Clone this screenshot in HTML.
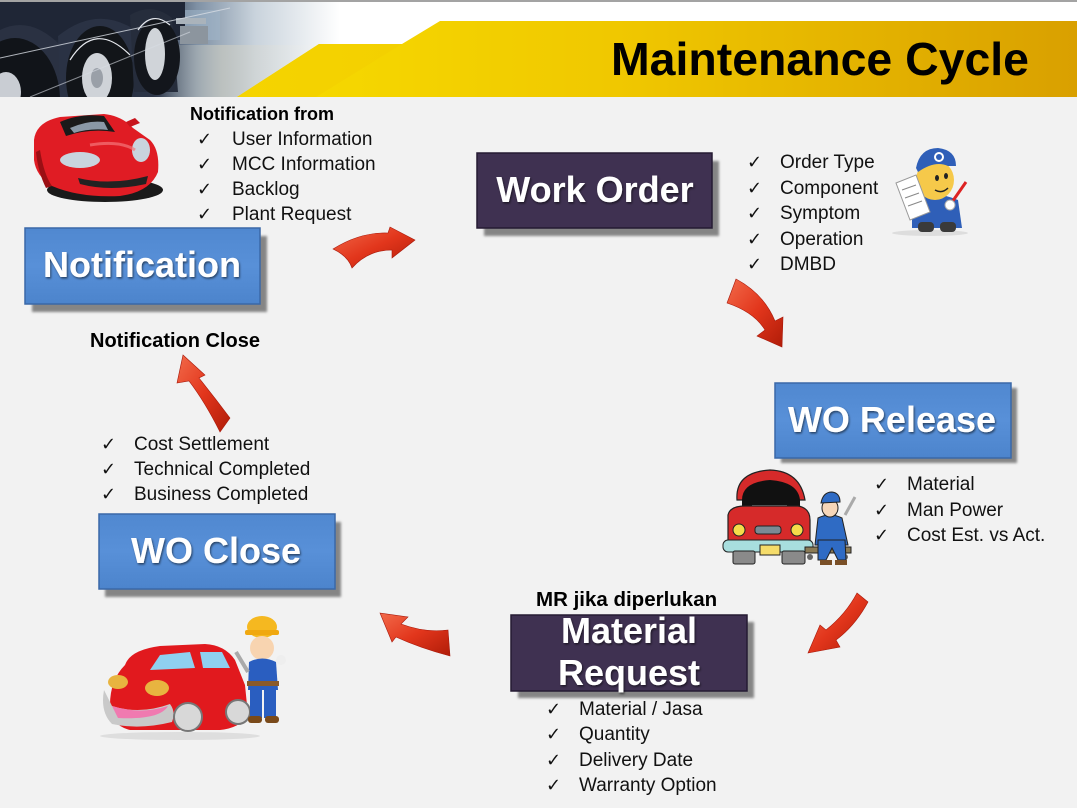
<!DOCTYPE html>
<html>
<head>
<meta charset="utf-8">
<style>
  html,body{margin:0;padding:0;background:#f2f2f2;}
  svg{display:block;}
  text{font-family:"Liberation Sans",sans-serif;}
  .chk{font-family:"DejaVu Sans",sans-serif;font-size:18px;fill:#111;}
  .li{font-size:19px;fill:#111;}
  .bx{font-size:36px;font-weight:bold;fill:#fff;}
  .hd{font-weight:bold;fill:#000;}
</style>
</head>
<body>
<svg width="1077" height="808" viewBox="0 0 1077 808" xmlns="http://www.w3.org/2000/svg">
  <defs>
    <clipPath id="hdrclip"><rect x="0" y="2" width="340" height="95"/></clipPath>
    <linearGradient id="yel" x1="0" y1="0" x2="1" y2="0">
      <stop offset="0" stop-color="#f7dc00"/>
      <stop offset="0.45" stop-color="#f0c800"/>
      <stop offset="1" stop-color="#d9a000"/>
    </linearGradient>
    <linearGradient id="yel2" x1="0" y1="0" x2="1" y2="0">
      <stop offset="0" stop-color="#f5d400"/>
      <stop offset="1" stop-color="#f3d000"/>
    </linearGradient>
    <linearGradient id="truckbg" x1="0" y1="0" x2="1" y2="0">
      <stop offset="0" stop-color="#1c2432"/>
      <stop offset="0.45" stop-color="#2c3547"/>
      <stop offset="0.58" stop-color="#7f91a5"/>
      <stop offset="0.75" stop-color="#c9d3dc"/>
      <stop offset="1" stop-color="#ffffff"/>
    </linearGradient>
    <linearGradient id="floor" x1="0" y1="0" x2="1" y2="0">
      <stop offset="0" stop-color="#b9bcb8" stop-opacity="0"/>
      <stop offset="0.35" stop-color="#c3c6c0"/>
      <stop offset="1" stop-color="#ffffff" stop-opacity="0"/>
    </linearGradient>
    <linearGradient id="red" x1="0" y1="0" x2="1" y2="1">
      <stop offset="0" stop-color="#f26a4a"/>
      <stop offset="0.5" stop-color="#e2361c"/>
      <stop offset="1" stop-color="#b01c08"/>
    </linearGradient>
    <linearGradient id="blue" x1="0" y1="0" x2="0" y2="1">
      <stop offset="0" stop-color="#5088d0"/>
      <stop offset="0.5" stop-color="#5890d8"/>
      <stop offset="1" stop-color="#4c84cc"/>
    </linearGradient>
    <filter id="sh" x="-10%" y="-10%" width="130%" height="130%">
      <feGaussianBlur stdDeviation="1.2"/>
    </filter>
    <filter id="ts" x="-5%" y="-20%" width="110%" height="140%">
      <feDropShadow dx="1" dy="1.5" stdDeviation="1" flood-color="#000" flood-opacity="0.55"/>
    </filter>
  </defs>

  <!-- background -->
  <rect x="0" y="0" width="1077" height="808" fill="#f2f2f2"/>

  <!-- header -->
  <rect x="0" y="0" width="1077" height="97" fill="#ffffff"/>
  <!-- truck photo -->
  <g clip-path="url(#hdrclip)">
    <rect x="0" y="2" width="340" height="95" fill="url(#truckbg)"/>
    <rect x="160" y="45" width="180" height="52" fill="url(#floor)" opacity="0.8"/>
    <rect x="170" y="10" width="50" height="30" fill="#9fb4c8" opacity="0.6"/>
    <!-- fenders / body -->
    <path d="M0,2 L185,2 L185,40 L0,40 Z" fill="#1f2636"/>
    <path d="M0,30 Q30,15 60,45 L62,97 L0,97 Z" fill="#2a3142"/>
    <ellipse cx="15" cy="100" rx="45" ry="62" fill="#111419"/>
    <ellipse cx="6" cy="92" rx="15" ry="20" fill="#c9cdd3"/>
    <path d="M58,36 Q95,6 132,28 L136,97 L60,97 Z" fill="#2a3244"/>
    <ellipse cx="100" cy="78" rx="34" ry="52" fill="#121519"/>
    <path d="M70,60 Q95,20 130,55" stroke="#e6e9ee" stroke-width="1.2" fill="none"/>
    <ellipse cx="97" cy="78" rx="15" ry="25" fill="#cfd3d8"/>
    <ellipse cx="97" cy="78" rx="6" ry="10" fill="#9aa0a8"/>
    <path d="M130,15 Q152,2 172,18 L178,92 L134,92 Z" fill="#262d3c"/>
    <ellipse cx="157" cy="57" rx="23" ry="38" fill="#13161c"/>
    <ellipse cx="155" cy="54" rx="10" ry="26" fill="#d0d4d9"/>
    <path d="M138,30 Q152,10 170,25" stroke="#e6e9ee" stroke-width="1.2" fill="none"/>
    <rect x="176" y="18" width="30" height="6" fill="#aab3bb"/>
    <rect x="180" y="26" width="28" height="18" fill="#8c959e"/>
    <path d="M0,58 L230,8" stroke="#d8dde4" stroke-width="1" opacity="0.8"/>
    <path d="M30,97 L190,32" stroke="#d8dde4" stroke-width="1" opacity="0.6"/>
  </g>
  <rect x="0" y="0" width="1077" height="2" fill="#a3a3a3"/>
  <!-- yellow band -->
  <polygon points="237,97 319,44 402,44 440,21 1077,21 1077,97" fill="url(#yel)"/>
  <polygon points="237,97 319,44 402,44 316,97" fill="url(#yel2)"/>
  <text x="611" y="75" class="hd" font-size="46" textLength="418" lengthAdjust="spacingAndGlyphs">Maintenance Cycle</text>

  <!-- ===== top-left red car ===== -->
  <g>
    <ellipse cx="105" cy="190" rx="58" ry="12" fill="#1a1a1a"/>
    <path d="M34,140 Q36,122 60,117 L104,114 Q122,116 133,128 L150,140 Q160,150 158,172 Q150,192 120,196 Q80,198 52,186 Q36,176 34,160 Z" fill="#e01c24"/>
    <path d="M60,122 Q80,113 104,116 L115,132 Q90,128 66,136 Z" fill="#1a1a1a"/>
    <path d="M70,128 Q88,120 104,122 L108,130 Q90,128 74,133 Z" fill="#8a98a6"/>
    <ellipse cx="80" cy="160" rx="20" ry="8" fill="#c9d4de"/>
    <ellipse cx="141" cy="150" rx="9" ry="12" fill="#c9d4de"/>
    <path d="M78,178 Q110,186 148,176 L146,184 Q110,192 80,184 Z" fill="#222"/>
    <path d="M40,150 Q44,175 52,186 L46,188 Q38,172 36,152 Z" fill="#9b0f14"/>
    <path d="M126,122 L135,118 L140,123 L130,127 Z" fill="#c8141c"/>
    <path d="M90,145 Q120,140 135,150" stroke="#f4767a" stroke-width="3" fill="none" opacity="0.7"/>
  </g>

  <!-- ===== top-right mechanic ===== -->
  <g>
    <ellipse cx="930" cy="233" rx="38" ry="3" fill="#ddd"/>
    <path d="M912,198 Q935,190 958,200 L962,228 L912,228 Z" fill="#2f5fb8"/>
    <rect x="918" y="222" width="16" height="10" rx="4" fill="#3a3a3a"/>
    <rect x="940" y="222" width="16" height="10" rx="4" fill="#3a3a3a"/>
    <ellipse cx="935" cy="180" rx="19" ry="20" fill="#f6c94a"/>
    <path d="M916,168 Q920,148 938,148 Q956,150 956,166 L948,166 Q935,160 918,172 Z" fill="#2f5fb8"/>
    <circle cx="939" cy="157" r="5" fill="#ffffff"/>
    <circle cx="939" cy="157" r="3" fill="#2f5fb8"/>
    <ellipse cx="937" cy="178" rx="2" ry="3" fill="#222"/>
    <ellipse cx="946" cy="176" rx="2" ry="3" fill="#222"/>
    <path d="M935,190 Q942,194 948,188" stroke="#222" stroke-width="1.5" fill="none"/>
    <polygon points="896,183 916,175 930,212 910,220" fill="#ffffff" stroke="#999" stroke-width="1"/>
    <line x1="902" y1="190" x2="916" y2="185" stroke="#888"/>
    <line x1="905" y1="198" x2="919" y2="193" stroke="#888"/>
    <line x1="908" y1="206" x2="922" y2="201" stroke="#888"/>
    <line x1="950" y1="205" x2="966" y2="182" stroke="#d22" stroke-width="3"/>
    <circle cx="950" cy="205" r="5" fill="#fff" stroke="#aaa"/>
  </g>

  <!-- ===== WO Release car + mechanic ===== -->
  <g>
    <path d="M737,500 Q735,472 770,470 Q800,471 805,500 Z" fill="#d62a2a" stroke="#222" stroke-width="1.2"/>
    <path d="M742,500 Q742,482 770,480 Q798,482 800,500 L800,518 L742,518 Z" fill="#111"/>
    <rect x="752" y="505" width="35" height="12" fill="#9aa0a6"/>
    <path d="M728,515 Q730,506 745,506 L798,506 Q810,508 810,520 L810,545 L728,545 Z" fill="#d62a2a" stroke="#222" stroke-width="1.2"/>
    <ellipse cx="739" cy="530" rx="6" ry="6" fill="#f5dc4a" stroke="#222"/>
    <ellipse cx="797" cy="530" rx="6" ry="6" fill="#f5dc4a" stroke="#222"/>
    <rect x="755" y="526" width="26" height="8" rx="3" fill="#7b8a94" stroke="#222"/>
    <rect x="723" y="540" width="90" height="12" rx="5" fill="#a8dede" stroke="#222"/>
    <rect x="760" y="545" width="20" height="10" fill="#f5dc6a" stroke="#222"/>
    <rect x="733" y="551" width="22" height="13" rx="2" fill="#8a8a8a" stroke="#222"/>
    <rect x="782" y="551" width="23" height="13" rx="2" fill="#8a8a8a" stroke="#222"/>
    <rect x="805" y="547" width="46" height="6" fill="#8a7a55" stroke="#222"/>
    <circle cx="810" cy="557" r="3" fill="#666"/>
    <circle cx="845" cy="557" r="3" fill="#666"/>
    <path d="M818,518 Q830,512 842,518 L848,545 L815,545 Z" fill="#2f6bc4" stroke="#222"/>
    <path d="M818,540 L845,540 L846,560 L838,560 L832,548 L826,560 L818,560 Z" fill="#2f6bc4" stroke="#222"/>
    <ellipse cx="830" cy="508" rx="8" ry="9" fill="#f6d6b8" stroke="#222"/>
    <path d="M821,503 Q823,492 832,492 Q840,493 840,502 Z" fill="#2f6bc4" stroke="#222"/>
    <path d="M845,515 L855,497" stroke="#aaa" stroke-width="3"/>
    <rect x="820" y="560" width="12" height="5" fill="#7a5028"/>
    <rect x="835" y="560" width="12" height="5" fill="#7a5028"/>
  </g>

  <!-- ===== WO Close car + mechanic ===== -->
  <g>
    <ellipse cx="180" cy="736" rx="80" ry="4" fill="#dedede"/>
    <path d="M125,665 Q130,650 160,646 L205,644 Q225,645 235,660 L245,685 L248,715 Q240,728 220,730 L130,730 Q110,725 110,705 Q110,680 125,665 Z" fill="#e1191e"/>
    <path d="M150,670 L160,655 L190,652 L195,668 Z" fill="#8fd0f0"/>
    <path d="M200,652 L222,652 L230,668 L203,668 Z" fill="#8fd0f0"/>
    <ellipse cx="118" cy="682" rx="10" ry="7" fill="#e8b440"/>
    <ellipse cx="157" cy="688" rx="12" ry="8" fill="#e8b440"/>
    <path d="M104,690 Q100,712 112,724 Q140,730 172,722 Q176,712 170,704 Q140,715 112,706 Z" fill="#c9c9c9"/>
    <path d="M112,706 Q140,715 168,706 Q160,720 118,718 Z" fill="#f07ab0"/>
    <circle cx="188" cy="717" r="14" fill="#d8d8d8" stroke="#777" stroke-width="2"/>
    <circle cx="238" cy="712" r="12" fill="#d8d8d8" stroke="#777" stroke-width="2"/>
    <ellipse cx="262" cy="627" rx="15" ry="11" fill="#f5b820"/>
    <rect x="245" y="630" width="34" height="5" rx="2" fill="#f0a810"/>
    <circle cx="262" cy="648" r="12" fill="#f8d4b0"/>
    <path d="M249,662 Q262,655 276,662 L278,690 L248,690 Z" fill="#2a5ec0"/>
    <rect x="250" y="688" width="12" height="30" fill="#2a5ec0"/>
    <rect x="264" y="688" width="12" height="30" fill="#2a5ec0"/>
    <rect x="247" y="681" width="32" height="5" fill="#8a5a2a"/>
    <rect x="248" y="716" width="14" height="7" rx="3" fill="#7a4a1a"/>
    <rect x="265" y="716" width="14" height="7" rx="3" fill="#7a4a1a"/>
    <path d="M236,652 L248,672" stroke="#aaa" stroke-width="4"/>
    <circle cx="281" cy="660" r="5" fill="#eee"/>
  </g>

  <!-- ===== arrows ===== -->
  <g fill="url(#red)" stroke="#a8180a" stroke-width="0.6">
    <path d="M333,249 Q360,232 388,233 L390,227 L415,240 L392,258 L392,250 Q368,250 352,268 Q348,256 333,249 Z"/>
    <path d="M736,279 Q764,294 775,321 L783,317 L782,347 L757,336 L765,330 Q754,312 727,303 Q732,290 736,279 Z"/>
    <path d="M857,593 L868,602 Q855,626 836,640 L840,647 L808,653 L820,625 L826,630 Q846,614 857,593 Z"/>
    <path d="M380,613 L408,617 L401,624 Q425,633 448,630 L450,656 Q420,648 396,637 L392,642 Z"/>
    <path d="M183,355 L205,375 L199,378 Q215,398 230,418 L220,432 Q205,402 189,381 L177,383 Z"/>
  </g>

  <!-- ===== boxes ===== -->
  <rect x="32" y="236" width="235" height="76" fill="#858585" filter="url(#sh)"/>
  <rect x="25" y="228" width="235" height="76" fill="url(#blue)" stroke="#3a68a8" stroke-width="1.5"/>
  <text x="142" y="277" class="bx" font-size="35" text-anchor="middle" filter="url(#ts)">Notification</text>

  <rect x="484" y="161" width="235" height="75" fill="#858585" filter="url(#sh)"/>
  <rect x="477" y="153" width="235" height="75" fill="#3f3151" stroke="#251b33" stroke-width="1.5"/>
  <text x="595" y="202" class="bx" font-size="37" text-anchor="middle" filter="url(#ts)">Work Order</text>

  <rect x="781" y="388" width="236" height="75" fill="#858585" filter="url(#sh)"/>
  <rect x="775" y="383" width="236" height="75" fill="url(#blue)" stroke="#3a68a8" stroke-width="1.5"/>
  <text x="892" y="432" class="bx" font-size="36" text-anchor="middle" filter="url(#ts)">WO Release</text>

  <rect x="518" y="622" width="236" height="76" fill="#858585" filter="url(#sh)"/>
  <rect x="511" y="615" width="236" height="76" fill="#3f3151" stroke="#251b33" stroke-width="1.5"/>
  <text x="629" y="643" class="bx" font-size="36" text-anchor="middle" filter="url(#ts)">Material</text>
  <text x="629" y="685" class="bx" font-size="36" text-anchor="middle" filter="url(#ts)">Request</text>

  <rect x="105" y="522" width="236" height="75" fill="#858585" filter="url(#sh)"/>
  <rect x="99" y="514" width="236" height="75" fill="url(#blue)" stroke="#3a68a8" stroke-width="1.5"/>
  <text x="216" y="563" class="bx" font-size="35" text-anchor="middle" filter="url(#ts)">WO Close</text>

  <!-- ===== labels ===== -->
  <text x="190" y="120" class="hd" font-size="18">Notification from</text>
  <text x="197" y="145" class="chk">✓</text><text x="232" y="145" class="li">User Information</text>
  <text x="197" y="170" class="chk">✓</text><text x="232" y="170" class="li">MCC Information</text>
  <text x="197" y="195" class="chk">✓</text><text x="232" y="195" class="li">Backlog</text>
  <text x="197" y="220" class="chk">✓</text><text x="232" y="220" class="li">Plant Request</text>

  <text x="90" y="347" class="hd" font-size="20">Notification Close</text>

  <text x="747" y="168" class="chk">✓</text><text x="780" y="168" class="li">Order Type</text>
  <text x="747" y="194" class="chk">✓</text><text x="780" y="194" class="li">Component</text>
  <text x="747" y="219" class="chk">✓</text><text x="780" y="219" class="li">Symptom</text>
  <text x="747" y="245" class="chk">✓</text><text x="780" y="245" class="li">Operation</text>
  <text x="747" y="270" class="chk">✓</text><text x="780" y="270" class="li">DMBD</text>

  <text x="874" y="490" class="chk">✓</text><text x="907" y="490" class="li">Material</text>
  <text x="874" y="516" class="chk">✓</text><text x="907" y="516" class="li">Man Power</text>
  <text x="874" y="541" class="chk">✓</text><text x="907" y="541" class="li">Cost Est. vs Act.</text>

  <text x="536" y="606" class="hd" font-size="20.5">MR jika diperlukan</text>
  <text x="546" y="715" class="chk">✓</text><text x="579" y="715" class="li">Material / Jasa</text>
  <text x="546" y="740" class="chk">✓</text><text x="579" y="740" class="li">Quantity</text>
  <text x="546" y="766" class="chk">✓</text><text x="579" y="766" class="li">Delivery Date</text>
  <text x="546" y="791" class="chk">✓</text><text x="579" y="791" class="li">Warranty Option</text>

  <text x="101" y="450" class="chk">✓</text><text x="134" y="450" class="li">Cost Settlement</text>
  <text x="101" y="475" class="chk">✓</text><text x="134" y="475" class="li">Technical Completed</text>
  <text x="101" y="500" class="chk">✓</text><text x="134" y="500" class="li">Business Completed</text>
</svg>
</body>
</html>
